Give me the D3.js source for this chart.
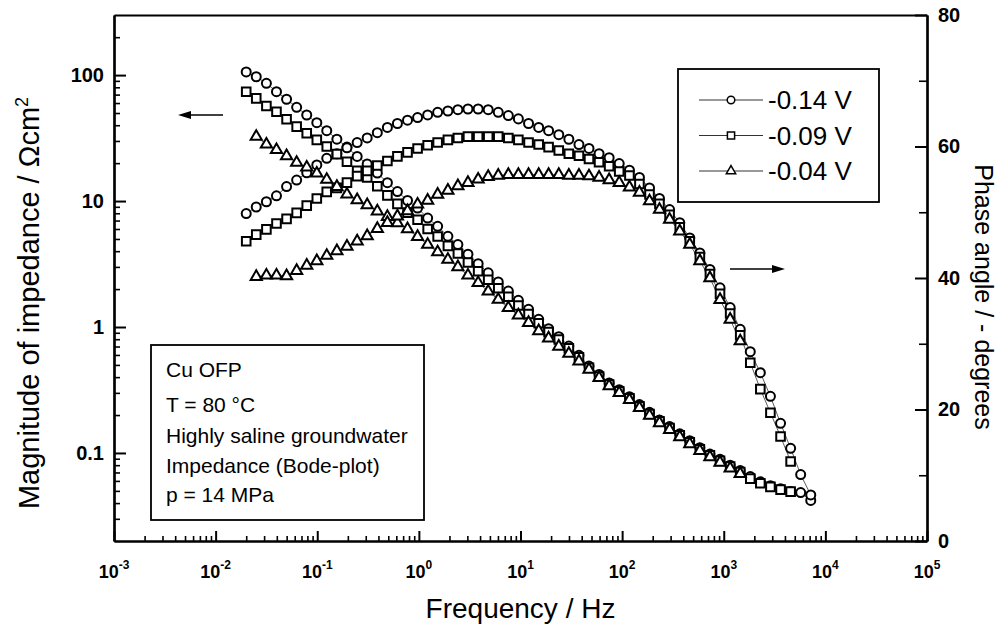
<!DOCTYPE html>
<html>
<head>
<meta charset="utf-8">
<script src="https://cdn.jsdelivr.net/npm/d3@7"></script>
<style>
  body { margin: 0; background: #fff; }
  text { font-family: "Liberation Sans", Arial, Helvetica, sans-serif; fill: #000; }
</style>
</head>
<body>
<script>
// Frequency sweep (Hz), ~10 points per decade
var freq = [0.0200, 0.0251, 0.0316, 0.0397, 0.0499, 0.0627, 0.0788, 0.0990, 0.124, 0.156,
  0.196, 0.247, 0.310, 0.390, 0.490, 0.615, 0.773, 0.971, 1.22, 1.53,
  1.93, 2.42, 3.04, 3.83, 4.81, 6.04, 7.59, 9.53, 12.0, 15.1,
  18.9, 23.8, 29.9, 37.6, 47.2, 59.3, 74.5, 93.6, 118, 148,
  186, 233, 293, 369, 463, 582, 731, 919, 1156, 1452,
  1824, 2291, 2879, 3622, 4550, 5715, 7180];

// -0.14 V (circles): all 57 frequencies
var magO = [106, 97, 86, 73.8, 64.3, 55.5, 48.2, 41.9, 36.2, 31.0, 26.8, 22.6, 19.7, 16.7, 14.0, 11.9, 10.1, 8.8,
  7.33, 6.30, 5.25, 4.51,
  3.78, 3.18, 2.69, 2.28, 1.93, 1.63, 1.38, 1.15, 0.97, 0.838, 0.706, 0.596,
  0.49, 0.42, 0.36, 0.318, 0.28, 0.242, 0.21, 0.183, 0.162, 0.142, 0.125, 0.110, 0.098, 0.089, 0.080, 0.0725,
  0.065, 0.059, 0.055, 0.052, 0.0495, 0.0485, 0.042];
var phaseO = [49.8, 50.8, 51.6, 52.5, 53.9, 54.9, 56.0, 57.2, 58.2, 58.9,
  59.8, 60.6, 61.3, 62.1, 62.9, 63.5, 64.0, 64.4, 64.8, 65.2,
  65.4, 65.6, 65.7, 65.7, 65.6, 65.2, 64.7, 64.2, 63.5, 62.9,
  62.4, 61.8, 61.1, 60.3, 59.7, 58.9, 58.3, 57.4, 56.4, 55.3,
  53.7, 52.1, 50.4, 48.4, 46.1, 43.8, 41.3, 38.5, 35.5, 32.2,
  28.8, 25.6, 22.0, 17.9, 14.1, 10.1, 7.0];

// -0.09 V (squares): first 55 frequencies
var magS = [73.8, 65.3, 56.8, 51.2, 44.6, 39.0, 34.5, 30.6, 27.1,
  23.6, 20.5, 17.4, 15.4, 13.1, 11.1, 9.5, 8.1, 7.1, 6.0, 5.23, 4.41, 3.83, 3.25, 2.77, 2.37, 2.03, 1.74, 1.48, 1.27, 1.07, 0.91, 0.796, 0.678, 0.575,
  0.475, 0.405, 0.35, 0.309, 0.272, 0.235, 0.204, 0.178, 0.158, 0.138, 0.1215, 0.107, 0.096, 0.0865, 0.078, 0.0705,
  0.0625, 0.0575, 0.0538, 0.0512, 0.0493];
var phaseS = [45.6, 46.6, 47.4, 48.3, 49.0, 49.9, 51.0, 52.1, 53.1, 53.7, 54.5, 55.5, 56.3, 57.1, 57.8, 58.5, 59.1, 59.7,
  60.2, 60.6, 61.0, 61.3, 61.5, 61.5, 61.5, 61.5, 61.3, 61.0, 60.6, 60.3, 59.9, 59.4, 58.9, 58.6, 58.1, 57.6, 57.0, 56.2, 55.6,
  54.3, 52.7, 51.3, 49.6, 47.7, 45.6, 43.2, 40.6, 37.6, 34.6, 31.3, 27.1, 23.1, 19.5, 15.9, 12.1];

// -0.04 V (triangles): frequencies 2..50 of the sweep
var magT = [32.5, 28.2, 25.5, 22.8, 20.2, 18.5, 16.6, 14.8, 13.0,
  11.3, 10.2, 9.3, 8.3, 7.5, 6.7, 6.0, 5.2,
  4.51, 3.93, 3.43, 3.0, 2.57, 2.24, 1.92, 1.65, 1.42, 1.24, 1.08, 0.93, 0.815, 0.70, 0.615, 0.535,
  0.46, 0.395, 0.340, 0.300, 0.264, 0.228, 0.198, 0.173, 0.153, 0.134, 0.118, 0.104, 0.093, 0.084, 0.0755, 0.0685];
var phaseT = [40.2, 40.4, 40.4, 40.3, 41.1, 41.9, 42.6, 43.4, 44.1, 44.8, 45.6, 46.4, 47.5, 48.4, 49.4, 50.2, 51.2, 51.8,
  52.7, 53.3, 54.0, 54.5, 55.0, 55.4, 55.6, 55.7, 55.7, 55.7, 55.7, 55.7, 55.7, 55.6, 55.6, 55.5, 55.3, 54.9,
  54.5, 53.8, 53.0, 51.7, 50.4, 48.9, 47.1, 45.1, 42.6, 40.0, 36.7, 33.7, 30.4];

var seriesLabels = ["-0.14 V", "-0.09 V", "-0.04 V"];
var infoLines = ["Cu OFP", "T = 80 \u00B0C", "Highly saline groundwater", "Impedance (Bode-plot)", "p = 14 MPa"];
var xTickExps = [-3, -2, -1, 0, 1, 2, 3, 4, 5];
var leftTicks = [0.1, 1, 10, 100];
var rightTicks = [0, 20, 40, 60, 80];
var rightMinor = [10, 30, 50, 70];

// Define SVG area dimensions
var svgWidth = 998;
var svgHeight = 627;

var margin = { top: 15, right: 71, bottom: 86, left: 114 };

var width = svgWidth - margin.left - margin.right;
var height = svgHeight - margin.top - margin.bottom;

var svg = d3.select("body")
  .append("svg")
  .attr("width", svgWidth)
  .attr("height", svgHeight);

var chartGroup = svg.append("g")
  .attr("transform", `translate(${margin.left}, ${margin.top})`);

// scales
var xScale = d3.scaleLog().domain([1e-3, 1e5]).range([0, width]);
var yMag = d3.scaleLog().domain([0.02, 300]).range([height, 0]);
var yPhase = d3.scaleLinear().domain([0, 80]).range([height, 0]);

// minor tick values for log axes
var xMinor = [];
for (var e = -3; e < 5; e++) {
  for (var k = 2; k <= 9; k++) xMinor.push(k * Math.pow(10, e));
}
var yMinor = [];
for (var e2 = -2; e2 < 3; e2++) {
  for (var k2 = 2; k2 <= 9; k2++) {
    var v = k2 * Math.pow(10, e2);
    if (v > 0.02 && v < 300) yMinor.push(v);
  }
}

function styleAxis(g, tickW) {
  g.selectAll(".domain").attr("stroke", "#000").attr("stroke-width", 2.2);
  g.selectAll(".tick line").attr("stroke", "#000").attr("stroke-width", tickW);
  g.attr("font-family", null).attr("font-size", null);
}

// bottom axis
chartGroup.append("g")
  .attr("transform", `translate(0, ${height})`)
  .call(d3.axisBottom(xScale).tickValues(xMinor).tickSize(-5).tickSizeOuter(0).tickFormat(""))
  .call(g => styleAxis(g, 1.6));
chartGroup.append("g")
  .attr("transform", `translate(0, ${height})`)
  .call(d3.axisBottom(xScale).tickValues(xTickExps.map(d => Math.pow(10, d))).tickSize(-10).tickSizeOuter(0).tickFormat(""))
  .call(g => styleAxis(g, 2));

// top frame line
chartGroup.append("g")
  .call(d3.axisTop(xScale).tickValues([]).tickSizeOuter(0))
  .call(g => styleAxis(g, 2));

// left axis
chartGroup.append("g")
  .call(d3.axisLeft(yMag).tickValues(yMinor).tickSize(-6).tickSizeOuter(0).tickFormat(""))
  .call(g => styleAxis(g, 1.6));
chartGroup.append("g")
  .call(d3.axisLeft(yMag).tickValues(leftTicks).tickSize(-12).tickSizeOuter(0).tickPadding(10).tickFormat(d => String(d)))
  .call(g => styleAxis(g, 2))
  .selectAll("text")
  .style("font-size", "20px")
  .style("font-weight", "bold");

// right axis
chartGroup.append("g")
  .attr("transform", `translate(${width}, 0)`)
  .call(d3.axisRight(yPhase).tickValues(rightMinor).tickSize(-8).tickSizeOuter(0).tickFormat(""))
  .call(g => styleAxis(g, 1.6));
chartGroup.append("g")
  .attr("transform", `translate(${width}, 0)`)
  .call(d3.axisRight(yPhase).tickValues(rightTicks).tickSize(-12).tickSizeOuter(0).tickPadding(11))
  .call(g => styleAxis(g, 2))
  .selectAll("text")
  .style("font-size", "20px")
  .style("font-weight", "bold");

// x tick labels 10^n
var xLab = chartGroup.append("g").selectAll("text")
  .data(xTickExps)
  .enter()
  .append("text")
  .attr("x", d => xScale(Math.pow(10, d)))
  .attr("y", height + 37)
  .attr("text-anchor", "middle")
  .style("font-weight", "bold")
  .style("font-size", "18px");
xLab.append("tspan").text("10");
xLab.append("tspan").attr("dy", -9).style("font-size", "12px").text(d => d);

// axis titles
chartGroup.append("text")
  .attr("x", width / 2)
  .attr("y", height + 77)
  .attr("text-anchor", "middle")
  .style("font-size", "28px")
  .text("Frequency / Hz");

var yTitle = svg.append("text")
  .attr("transform", "translate(39, 303) rotate(-90)")
  .attr("text-anchor", "middle")
  .style("font-size", "29px");
yTitle.append("tspan").text("Magnitude of impedance / \u03A9cm");
yTitle.append("tspan").attr("dy", -11).style("font-size", "18px").text("2");

svg.append("text")
  .attr("transform", "translate(975, 297) rotate(90)")
  .attr("text-anchor", "middle")
  .style("font-size", "25px")
  .text("Phase angle / - degrees");

// series
var series = [
  { name: seriesLabels[0], symbol: d3.symbolCircle, size: 64, freq: freq, mag: magO, phase: phaseO },
  { name: seriesLabels[1], symbol: d3.symbolSquare, size: 74, freq: freq.slice(0, 55), mag: magS, phase: phaseS },
  { name: seriesLabels[2], symbol: d3.symbolTriangle, size: 54, freq: freq.slice(1, 50), mag: magT, phase: phaseT }
];

var magLine = d3.line().x(d => xScale(d.f)).y(d => yMag(d.v));
var phaseLine = d3.line().x(d => xScale(d.f)).y(d => yPhase(d.v));

series.forEach(function(s) {
  s.magPts = s.freq.map((f, i) => ({ f: f, v: s.mag[i] }));
  s.phasePts = s.freq.map((f, i) => ({ f: f, v: s.phase[i] }));
});

// thin connecting lines first
series.forEach(function(s) {
  chartGroup.append("path").datum(s.magPts)
    .attr("d", magLine).attr("fill", "none").attr("stroke", "#333").attr("stroke-width", 0.8);
  chartGroup.append("path").datum(s.phasePts)
    .attr("d", phaseLine).attr("fill", "none").attr("stroke", "#333").attr("stroke-width", 0.8);
});

// markers
series.forEach(function(s) {
  var sym = d3.symbol().type(s.symbol).size(s.size);
  chartGroup.append("g").selectAll("path")
    .data(s.magPts)
    .enter()
    .append("path")
    .attr("d", sym)
    .attr("transform", d => `translate(${xScale(d.f)}, ${yMag(d.v)})`)
    .attr("fill", "#fff").attr("stroke", "#000").attr("stroke-width", 2);
  chartGroup.append("g").selectAll("path")
    .data(s.phasePts)
    .enter()
    .append("path")
    .attr("d", sym)
    .attr("transform", d => `translate(${xScale(d.f)}, ${yPhase(d.v)})`)
    .attr("fill", "#fff").attr("stroke", "#000").attr("stroke-width", 2);
});

// legend
var legend = svg.append("g");
legend.append("rect")
  .attr("x", 678).attr("y", 69).attr("width", 201).attr("height", 133)
  .attr("fill", "#fff").attr("stroke", "#000").attr("stroke-width", 1.8);
var items = legend.selectAll("g.item")
  .data(series)
  .enter()
  .append("g")
  .attr("transform", (d, i) => `translate(0, ${100 + i * 35.5})`);
items.append("line")
  .attr("x1", 699).attr("x2", 763).attr("y1", 0).attr("y2", 0)
  .attr("stroke", "#333").attr("stroke-width", 1);
items.append("path")
  .attr("d", d => d3.symbol().type(d.symbol).size(d.size * 0.7)())
  .attr("transform", "translate(731, 0)")
  .attr("fill", "#fff").attr("stroke", "#000").attr("stroke-width", 1.5);
items.append("text")
  .attr("x", 768).attr("y", 9)
  .style("font-size", "26px")
  .text(d => d.name);

// info box
var info = svg.append("g");
info.append("rect")
  .attr("x", 151).attr("y", 345).attr("width", 273).attr("height", 175)
  .attr("fill", "#fff").attr("stroke", "#000").attr("stroke-width", 1.8);
var infoY = [377, 412, 443, 473, 502];
info.selectAll("text")
  .data(infoLines)
  .enter()
  .append("text")
  .attr("x", 166)
  .attr("y", (d, i) => infoY[i])
  .style("font-size", "21px")
  .text(d => d);

// arrows: magnitude -> left axis, phase -> right axis
function arrow(x1, x2, y) {
  var dir = x2 > x1 ? 1 : -1;
  svg.append("line")
    .attr("x1", x1).attr("x2", x2 - dir * 10).attr("y1", y).attr("y2", y)
    .attr("stroke", "#000").attr("stroke-width", 1.6);
  svg.append("path")
    .attr("d", `M${x2},${y} L${x2 - dir * 13},${y - 4} L${x2 - dir * 13},${y + 4} Z`)
    .attr("fill", "#000");
}
arrow(223, 178, 115);
arrow(730, 785, 269);
</script>
</body>
</html>
